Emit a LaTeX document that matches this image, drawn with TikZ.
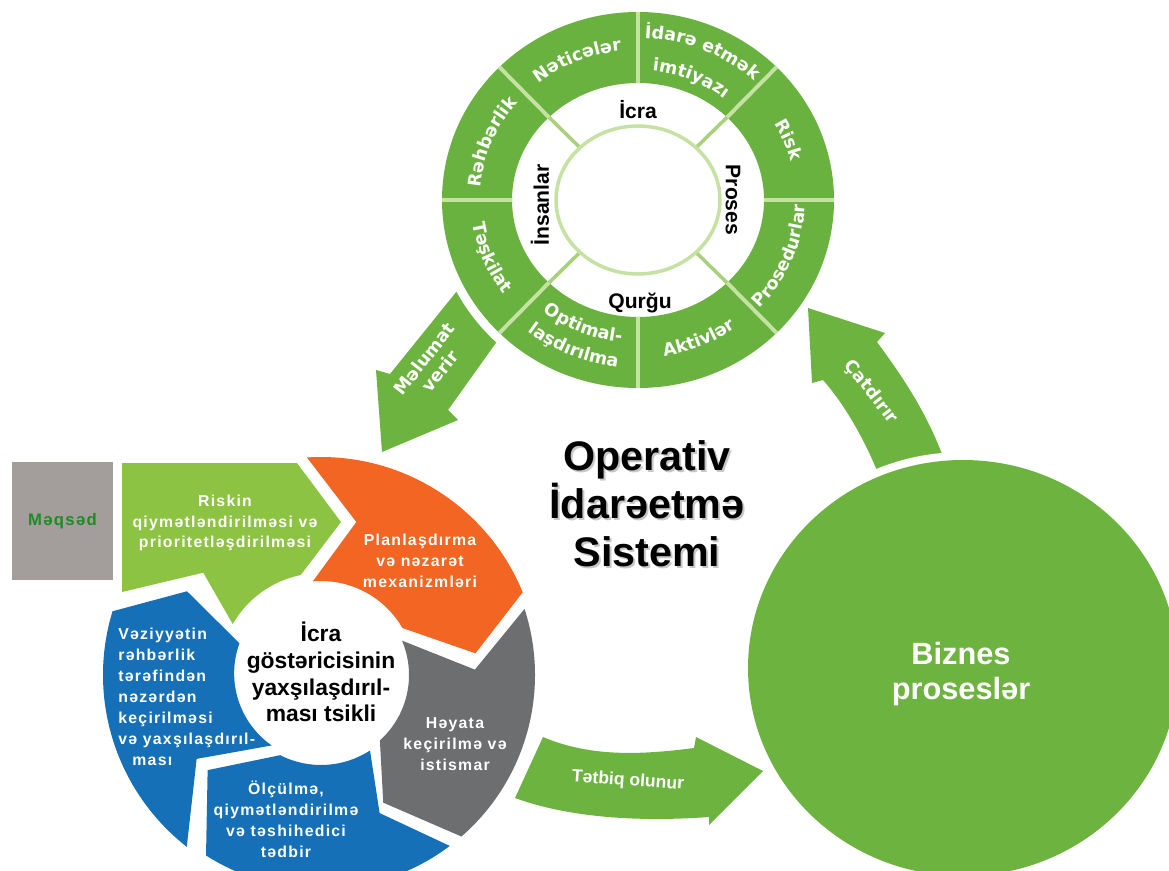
\documentclass[tikz,border=0pt]{standalone}
\usepackage{fontspec}
\setmainfont{Liberation Sans}
\newfontfamily\ringfont{DejaVu Sans}
\newfontfamily\spacedfont[LetterSpace=8]{Liberation Sans}
\usetikzlibrary{calc,decorations.text}

\definecolor{ringgreen}{HTML}{6AB23F}
\definecolor{arrowgreen}{HTML}{6DB33F}
\definecolor{riskgreen}{HTML}{8CC342}
\definecolor{planorange}{HTML}{F26522}
\definecolor{dogray}{HTML}{6D6E70}
\definecolor{cycleblue}{HTML}{1570B8}
\definecolor{boxgray}{HTML}{A39D9B}
\definecolor{goalgreen}{HTML}{1E8B24}
\definecolor{spoke}{HTML}{C6E2A2}
\definecolor{spokein}{HTML}{A9D17C}

\newcommand{\ringlabelfont}{\ringfont\bfseries\fontsize{10}{12}\selectfont}

\tikzset{
	ringtext/.style={decorate, decoration={text along path, text align=center, text color=white}},
	innerlabel/.style={font=\bfseries\fontsize{12}{14}\selectfont, inner sep=0pt},
	cycletext/.style={text=white, align=center, inner sep=0pt, font=\spacedfont\bfseries\fontsize{9}{11.9}\selectfont},
	arrowlabel/.style={text=white, align=center, inner sep=0pt, font=\ringfont\bfseries\fontsize{10}{11.5}\selectfont},
	titletext/.style={align=center, inner sep=0pt, font=\bfseries\fontsize{23.5}{27.2}\selectfont}
}

\begin{document}
\begin{tikzpicture}[x=0.02cm, y=0.02cm]
	\useasboundingbox (0,0) rectangle (1169,-871);
	\clip (0,0) rectangle (1169,-871);

	\coordinate (ring) at (638,-200);
	\coordinate (cyc) at (321,-675);

	% Melumat verir
	\fill[arrowgreen] (461,-286) -- (390,-374) -- (376,-370) -- (382,-452) -- (458,-420) -- (448,-410) -- (503,-333) -- cycle;

	% the ring
	\fill[white] (ring) ellipse [x radius=205, y radius=197];
	\fill[ringgreen, even odd rule] (ring) ellipse [x radius=196, y radius=188] (ring) ellipse [x radius=126, y radius=117];
	\foreach \a in {0,90,180,270}
		\draw[spoke, line width=2.2pt] ($(ring)+(\a:126 and 117)$) -- ($(ring)+(\a:196 and 188)$);
	\foreach \a in {45,135,225,315} {
		\draw[spokein, line width=2pt] ($(ring)+(\a:82 and 74)$) -- ($(ring)+(\a:127 and 118)$);
		\draw[spoke, line width=2.2pt] ($(ring)+(\a:126 and 117)$) -- ($(ring)+(\a:196 and 188)$);
	}
	\draw[spoke, line width=2pt] (ring) ellipse [x radius=82, y radius=74];

	\path[ringtext, decoration={text={|\ringlabelfont|Nəticələr}}] ($(ring)+(135:158 and 150)$) arc [start angle=135, end angle=90, x radius=158, y radius=150];
	\path[ringtext, decoration={text={|\ringlabelfont|İdarə etmək}}] ($(ring)+(90:171 and 162)$) arc [start angle=90, end angle=45, x radius=171, y radius=162];
	\path[ringtext, decoration={text={|\ringlabelfont|imtiyazı}}] ($(ring)+(90:138 and 130)$) arc [start angle=90, end angle=45, x radius=138, y radius=130];
	\path[ringtext, decoration={text={|\ringlabelfont|Risk}}] ($(ring)+(45:158 and 150)$) arc [start angle=45, end angle=0, x radius=158, y radius=150];
	\path[ringtext, decoration={text={|\ringlabelfont|Rəhbərlik}}] ($(ring)+(180:158 and 150)$) arc [start angle=180, end angle=135, x radius=158, y radius=150];
	\path[ringtext, decoration={text={|\ringlabelfont|Prosedurlar}}] ($(ring)+(-45:167 and 158)$) arc [start angle=-45, end angle=0, x radius=167, y radius=158];
	\path[ringtext, decoration={text={|\ringlabelfont|Aktivlər}}] ($(ring)+(-90:167 and 158)$) arc [start angle=-90, end angle=-45, x radius=167, y radius=158];
	\path[ringtext, decoration={text={|\ringlabelfont|Optimal-}}] ($(ring)+(-135:152 and 143)$) arc [start angle=-135, end angle=-90, x radius=152, y radius=143];
	\path[ringtext, decoration={text={|\ringlabelfont|laşdırılma}}] ($(ring)+(-135:178 and 168)$) arc [start angle=-135, end angle=-90, x radius=178, y radius=168];
	\path[ringtext, decoration={text={|\ringlabelfont|Təşkilat}}] ($(ring)+(-180:167 and 158)$) arc [start angle=-180, end angle=-135, x radius=167, y radius=158];

	\node at (638,-110) [innerlabel] (icra) {İcra};
	\node at (733,-200) [innerlabel, rotate=-90] (proses) {Proses};
	\node at (640,-303) [innerlabel] (qurgu) {Qurğu};
	\node at (540,-205) [innerlabel, rotate=90] (insanlar) {İnsanlar};

	\node at (432,-365) [arrowlabel, rotate=52] (malumat) {Məlumat\\verir};

	% the cycle
	\fill[riskgreen] (122,-463) -- (297,-463) -- (341,-522) -- ($(cyc)+(101.5:102)$) arc [start angle=101.5, end angle=150, radius=102] -- ($(cyc)+(139:156)$) -- (122,-592) -- cycle;
	\fill[planorange] ($(cyc)+(93.7:218)$) arc [start angle=93.7, end angle=22.3, radius=218] -- ($(cyc)+(8:156)$) -- ($(cyc)+(30:94)$) arc [start angle=30, end angle=95, radius=94] -- ($(cyc)+(77:157)$) -- cycle;
	\fill[dogray] ($(cyc)+(18:214)$) arc [start angle=18, end angle=-49, radius=214] -- ($(cyc)+(-64:142)$) -- ($(cyc)+(-48:88)$) arc [start angle=-48, end angle=23, radius=88] -- ($(cyc)+(2:154)$) -- cycle;
	\fill[cycleblue] ($(cyc)+(-53:214)$) -- ($(cyc)+(-67:150)$) -- ($(cyc)+(-57:90)$) arc [start angle=-57, end angle=-117, radius=90] -- ($(cyc)+(-140:148)$) -- ($(cyc)+(-122.5:214)$) arc [start angle=-122.5, end angle=-53, radius=214] -- cycle;
	\fill[cycleblue] ($(cyc)+(-128:218)$) -- ($(cyc)+(-146:150)$) -- ($(cyc)+(-125:86)$) arc [start angle=-125, end angle=-200, radius=88] -- ($(cyc)+(148:158)$) -- ($(cyc)+(163:218)$) arc [start angle=163, end angle=232, radius=218] -- cycle;

	\node at (62.5,-521) [fill=boxgray, minimum width=2.02cm, minimum height=2.36cm, inner sep=0pt, text=goalgreen, font=\spacedfont\bfseries\fontsize{9.5}{11}\selectfont] (maqsad) {Məqsəd};
	\node at (225,-523) [cycletext] (riskin) {Riskin\\qiymətləndirilməsi və\\prioritetləşdirilməsi};
	\node at (420,-561) [cycletext] (plan) {Planlaşdırma\\və nəzarət\\mexanizmləri};
	\node at (455,-744) [cycletext] (heyata) {Həyata\\keçirilmə və\\istismar};
	\node at (286,-819) [cycletext] (olcu) {Ölçülmə,\\qiymətləndirilmə\\və təshihedici\\tədbir};
	\node at (118,-697) [cycletext, align=left, anchor=west] (veziyyet) {Vəziyyətin\\rəhbərlik\\tərəfindən\\nəzərdən\\keçirilməsi\\və yaxşılaşdırıl-\\\hspace*{8pt}ması};
	\node at (321,-672) [align=center, inner sep=0pt, font=\bfseries\fontsize{13}{15.3}\selectfont] (cycletitle) {İcra\\göstəricisinin\\yaxşılaşdırıl-\\ması tsikli};

	% business processes
	\fill[arrowgreen] (543,-737) .. controls (590,-757) and (640,-755) .. (694,-748) -- (696,-737) -- (763,-771) -- (709,-825) -- (709,-817) .. controls (640,-822) and (570,-818) .. (515,-798) -- cycle;
	\fill[arrowgreen] (808,-308) -- (885,-333) -- (877,-342) .. controls (905,-380) and (928,-415) .. (945,-462) -- (880,-478) .. controls (865,-440) and (845,-405) .. (823,-380) -- (812,-383) -- cycle;
	\fill[white] (963,-668) ellipse [x radius=223, y radius=216];
	\fill[arrowgreen] (963,-668) ellipse [x radius=215, y radius=208];

	\node at (628,-781) [text=white, inner sep=0pt, rotate=-4, font=\bfseries\fontsize{10}{12}\selectfont] (tetbiq) {Tətbiq olunur};
	\node at (871,-392) [arrowlabel, rotate=-52] (catdirir) {Çatdırır};
	\node at (961,-674) [align=center, inner sep=0pt, text=white, font=\bfseries\fontsize{17.5}{20}\selectfont] (biznes) {Biznes\\proseslər};

	\node at (649,-506) [titletext, text=black!22] (titleshadow) {Operativ\\İdarəetmə\\Sistemi};
	\node at (647,-504) [titletext] (title) {Operativ\\İdarəetmə\\Sistemi};
\end{tikzpicture}
\end{document}
